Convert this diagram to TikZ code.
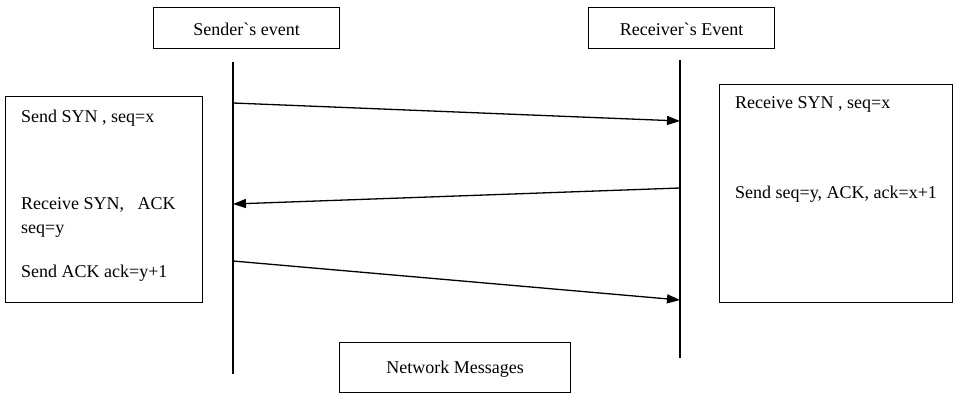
\documentclass[tikz,border=0pt]{standalone}
\usepackage{fontspec}
\newfontfamily\tnr{Liberation Serif}
\usetikzlibrary{arrows.meta}
\begin{document}
\begin{tikzpicture}[x=1pt,y=-1pt,
  every node/.style={font=\tnr\fontsize{18}{22}\selectfont},
  box/.style={draw,line width=1.3pt,inner sep=0pt,anchor=north west},
  txt/.style={anchor=base west,inner sep=0pt},
  life/.style={line width=1.3pt},
  msg/.style={line width=1.3pt,-{Triangle[length=13pt,width=9pt]}}]
\useasboundingbox (0,0) rectangle (963,402);
% header boxes
\node[box,minimum width=186pt,minimum height=41pt] (sb) at (153,7) {};
\node[anchor=base] at ([yshift=-7pt]sb.center) {Sender`s event};
\node[box,minimum width=186pt,minimum height=41pt] (rb) at (588,7) {};
\node[anchor=base] at ([yshift=-7pt]rb.center) {Receiver`s Event};
% side boxes
\node[box,minimum width=197pt,minimum height=206pt] (lb) at (5,96) {};
\node[box,minimum width=233pt,minimum height=218pt] (rbx) at (719,84) {};
\node[box,minimum width=231pt,minimum height=50pt] (nm) at (339,342) {};
\node[anchor=base] at ([yshift=-6pt]nm.center) {Network Messages};
% texts
\node[txt] (t1) at (21,122) {Send SYN , seq=x};
\node[txt] (t2) at (21,209) {Receive SYN,\ \ \ ACK};
\node[txt] (t3) at (21,233) {seq=y};
\node[txt] (t4) at (21,277) {Send ACK ack=y+1};
\node[txt] (t5) at (735,108) {Receive SYN , seq=x};
\node[txt] (t6) at (735,198) {Send seq=y, ACK, ack=x+1};
% lifelines
\coordinate (lt) at (233,62);
\coordinate (lbm) at (233,374);
\coordinate (rt) at (680,60);
\coordinate (rbm) at (680,358);
\draw[life] (lt) -- (lbm);
\draw[life] (rt) -- (rbm);
% messages
\coordinate (a1) at (233,103); \coordinate (b1) at (680,121);
\coordinate (a2) at (680,188); \coordinate (b2) at (233,204);
\coordinate (a3) at (233,261); \coordinate (b3) at (680,300);
\draw[msg] (a1) -- (b1);
\draw[msg] (a2) -- (b2);
\draw[msg] (a3) -- (b3);
\end{tikzpicture}
\end{document}
